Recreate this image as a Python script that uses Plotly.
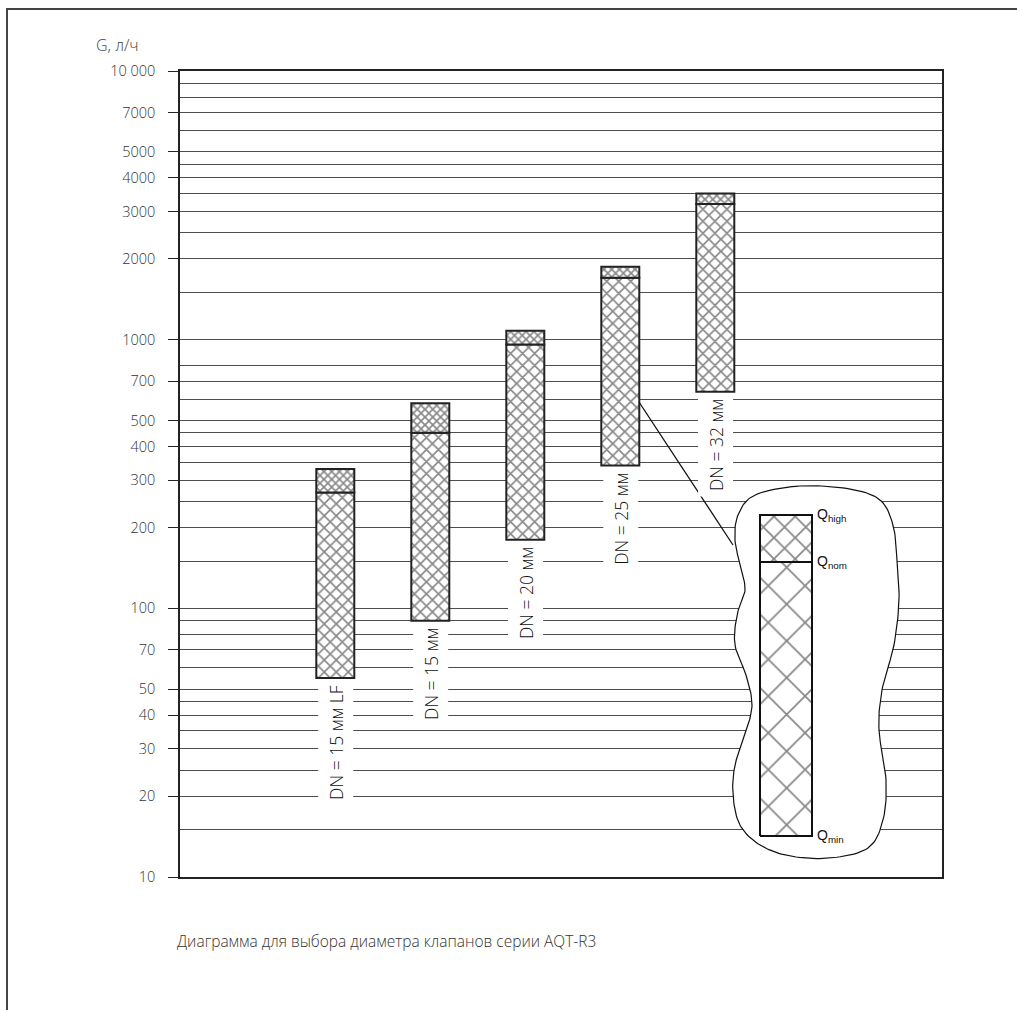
import numpy as np
import plotly.graph_objects as go

# ---------------- data ----------------
labels = ["DN = 15 мм LF", "DN = 15 мм", "DN = 20 мм", "DN = 25 мм", "DN = 32 мм"]
q_min = [55, 90, 180, 340, 640]
q_nom = [270, 450, 960, 1700, 3200]
q_high = [330, 580, 1080, 1870, 3500]

tick_vals = [10, 20, 30, 40, 50, 70, 100, 200, 300, 400, 500, 700,
             1000, 2000, 3000, 4000, 5000, 7000, 10000]
tick_text = ["10", "20", "30", "40", "50", "70", "100", "200", "300", "400", "500", "700",
             "1000", "2000", "3000", "4000", "5000", "7000", "10 000"]
grid_minor = [15, 25, 35, 45, 60, 80, 90, 150, 250, 350, 450, 600, 800,
              1500, 2500, 3500, 4500, 6000, 8000, 9000]

axis_title = "G, л/ч"
caption = "Диаграмма для выбора диаметра клапанов серии AQT-R3"
key_labels = ["Q<sub>high</sub>", "Q<sub>nom</sub>", "Q<sub>min</sub>"]

# ---------------- layout geometry (pixels) ----------------
W, H = 1017, 1010
L, R, T, B = 180, 942, 71, 877
xpos = list(range(1, len(labels) + 1))
x_lo = 1 - (335.3 - L) / 95.0
x_hi = x_lo + (R - L) / 95.0

def px(xp):
    return (xp - L) / (R - L)

def py(yp):
    return (B - yp) / (B - T)

FONT = "Open Sans"
INK = "#111111"
GRID = "#4d4d4d"

fig = go.Figure()

# main bars: Qmin -> Qnom
fig.add_trace(go.Bar(
    x=xpos, y=[n - m for n, m in zip(q_nom, q_min)], base=q_min, width=0.4,
    marker=dict(color="white", line=dict(color="#222", width=2),
                pattern=dict(shape="x", size=8.5, solidity=0.36, fgcolor=INK, bgcolor="white")),
    showlegend=False, hoverinfo="skip"))
# main bars: Qnom -> Qhigh
fig.add_trace(go.Bar(
    x=xpos, y=[h - n for h, n in zip(q_high, q_nom)], base=q_nom, width=0.4,
    marker=dict(color="white", line=dict(color="#222", width=2),
                pattern=dict(shape="x", size=5.5, solidity=0.5, fgcolor=INK, bgcolor="white")),
    showlegend=False, hoverinfo="skip"))

# ---------------- key / callout (pixel overlay axes) ----------------
blob_pts = [(800, 486), (850, 489), (880, 500), (893, 525), (897, 560), (899, 600),
            (894, 645), (882, 690), (879, 730), (886, 780), (883, 820), (868, 848),
            (830, 858), (790, 856), (760, 845), (740, 825), (733, 795), (735, 765),
            (745, 735), (752, 705), (746, 675), (735, 645), (737, 615), (745, 590),
            (740, 565), (735, 540), (738, 515), (755, 495)]

def catmull(points, n=12):
    p = np.array(points, dtype=float)
    N = len(p)
    out = []
    for i in range(N):
        p0, p1, p2, p3 = p[(i - 1) % N], p[i], p[(i + 1) % N], p[(i + 2) % N]
        for t in np.linspace(0, 1, n, endpoint=False):
            t2, t3 = t * t, t * t * t
            out.append(0.5 * ((2 * p1) + (-p0 + p2) * t + (2 * p0 - 5 * p1 + 4 * p2 - p3) * t2
                              + (-p0 + 3 * p1 - 3 * p2 + p3) * t3))
    out.append(out[0])
    return np.array(out)

curve = catmull(blob_pts)

# leader line
fig.add_trace(go.Scatter(x=[639, 733], y=[402, 545], xaxis="x2", yaxis="y2", mode="lines",
                         line=dict(color=INK, width=1.3), showlegend=False, hoverinfo="skip"))
# blob
fig.add_trace(go.Scatter(x=curve[:, 0], y=curve[:, 1], xaxis="x2", yaxis="y2", mode="lines",
                         fill="toself", fillcolor="white", line=dict(color=INK, width=1.2),
                         showlegend=False, hoverinfo="skip"))
kx0, kx1, k_high, k_nom, k_min = 760, 812, 515, 562, 836
fig.add_trace(go.Scatter(x=[kx0, kx1, kx1, kx0, kx0], y=[k_min, k_min, k_nom, k_nom, k_min],
                         xaxis="x2", yaxis="y2", mode="lines", fill="toself", fillcolor="white",
                         fillpattern=dict(shape="x", size=26, solidity=0.13, fgcolor=INK, bgcolor="white"),
                         line=dict(color=INK, width=2), showlegend=False, hoverinfo="skip"))
fig.add_trace(go.Scatter(x=[kx0, kx1, kx1, kx0, kx0], y=[k_nom, k_nom, k_high, k_high, k_nom],
                         xaxis="x2", yaxis="y2", mode="lines", fill="toself", fillcolor="white",
                         fillpattern=dict(shape="x", size=15, solidity=0.22, fgcolor=INK, bgcolor="white"),
                         line=dict(color=INK, width=2), showlegend=False, hoverinfo="skip"))

annotations = []
for xv, lab, m in zip(xpos, labels, q_min):
    annotations.append(dict(x=xv, y=np.log10(m), xref="x", yref="y", text=lab, textangle=-90,
                            showarrow=False, xanchor="center", yanchor="top", yshift=-1,
                            bgcolor="white", borderpad=5,
                            font=dict(family=FONT, size=17.5, color=INK, weight=300)))
for lab, yv in zip(key_labels, [k_high, k_nom, k_min]):
    annotations.append(dict(x=815, y=yv, xref="x2", yref="y2", text=lab, showarrow=False,
                            xanchor="left", yanchor="middle",
                            font=dict(family="Liberation Sans", size=14, color=INK)))
annotations.append(dict(x=px(117), y=py(45), xref="paper", yref="paper", text=axis_title,
                        showarrow=False, xanchor="center", yanchor="middle",
                        font=dict(family=FONT, size=16, color="#444", weight=300)))
annotations.append(dict(x=px(175), y=py(941), xref="paper", yref="paper", text=caption,
                        showarrow=False, xanchor="left", yanchor="middle",
                        font=dict(family=FONT, size=15.5, color="#333", weight=300)))

shapes = [
    dict(type="line", xref="paper", yref="paper", x0=px(7), x1=px(7), y0=py(8), y1=py(1012),
         line=dict(color="#444", width=2)),
    dict(type="line", xref="paper", yref="paper", x0=px(6), x1=px(1019), y0=py(9), y1=py(9),
         line=dict(color="#444", width=2)),
]

fig.update_layout(
    width=W, height=H,
    margin=dict(l=L, r=W - R, t=T, b=H - B, pad=0),
    paper_bgcolor="white", plot_bgcolor="white",
    barmode="overlay", showlegend=False,
    font=dict(family=FONT, color="#333"),
    xaxis=dict(range=[x_lo, x_hi], showgrid=False, zeroline=False, showticklabels=False,
               ticks="", showline=True, linecolor="#222", linewidth=1.5, mirror=True, fixedrange=True),
    yaxis=dict(type="log", range=[1, 4], tickmode="array", tickvals=tick_vals, ticktext=tick_text,
               ticks="outside", ticklen=10, tickcolor="#222", tickwidth=1,
               ticklabelstandoff=10,
               tickfont=dict(family=FONT, size=14.5, color="#333", weight=300),
               showgrid=True, gridcolor=GRID, gridwidth=1,
               minor=dict(tickmode="array", tickvals=grid_minor, showgrid=True,
                          gridcolor=GRID, gridwidth=1, ticks=""),
               showline=True, linecolor="#222", linewidth=1.5, mirror=True, zeroline=False,
               fixedrange=True),
    xaxis2=dict(overlaying="x", anchor="y2", range=[L, R], visible=False, fixedrange=True),
    yaxis2=dict(overlaying="y", anchor="x2", range=[B, T], visible=False, fixedrange=True),
    annotations=annotations, shapes=shapes,
)

fig.write_html("out.html", config={"displayModeBar": False},
               post_script="document.body.style.margin='0';document.body.style.padding='0';")
